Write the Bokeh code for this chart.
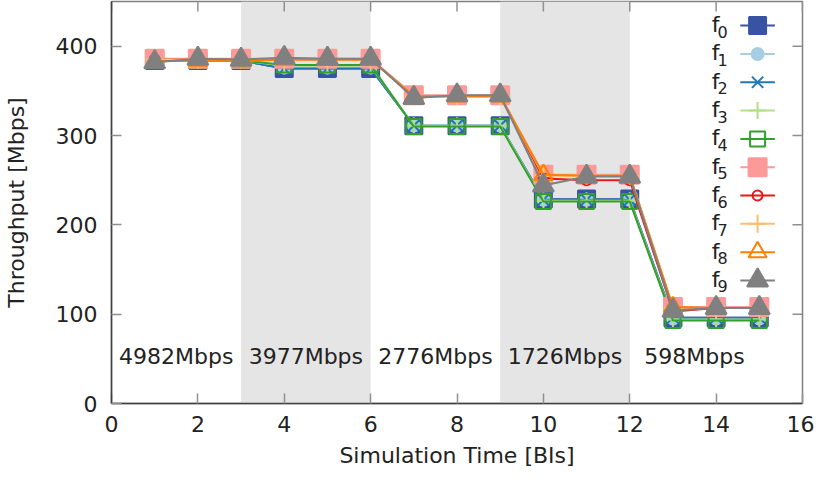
import math
from bokeh.plotting import figure
from bokeh.models import BoxAnnotation, Range1d, FixedTicker, ColumnDataSource
from bokeh.core.properties import value
from bokeh.embed import file_html
from bokeh.resources import INLINE

x = list(range(1, 16))
f0 = [384, 384, 384, 375, 375, 375, 311, 311, 311, 229, 229, 229, 96, 96, 96]
f1 = [384, 384, 384, 376, 376, 376, 311, 311, 311, 228, 228, 228, 95, 95, 95]
f2 = [384, 384, 384, 375, 375, 375, 311, 311, 311, 228, 228, 228, 96, 96, 96]
f3 = [384, 384, 384, 378, 378, 378, 311, 311, 311, 227, 227, 227, 94, 94, 94]
f4 = [384, 384, 384, 379, 379, 379, 310, 310, 310, 226, 226, 226, 93, 93, 93]
f5 = [386, 386, 386, 386, 386, 386, 345, 345, 345, 256, 256, 256, 108, 108, 108]
f6 = [385, 385, 385, 385, 385, 385, 344, 344, 344, 252, 250, 250, 103, 107, 107]
f7 = [385, 385, 385, 385, 385, 385, 344, 344, 344, 255, 255, 255, 107, 107, 107]
f8 = [383, 384, 383, 385, 385, 385, 344, 344, 344, 256, 255, 255, 108, 107, 107]
f9 = [382, 386, 385, 387, 386, 386, 342, 345, 345, 244, 254, 254, 104, 107, 107]

series = [f0, f1, f2, f3, f4, f5, f6, f7, f8, f9]
subs = ["0", "1", "2", "3", "4", "5", "6", "7", "8", "9"]
colors = ["#3953a4", "#a6cee3", "#1f78b4", "#b2df8a", "#33a02c",
          "#fb9a99", "#e31a1c", "#fdbf6f", "#ff7f00", "#808080"]
markers = ["square", "circle", "x", "cross", "square",
           "square", "circle", "cross", "triangle", "triangle"]
filled = [True, True, False, False, False, True, False, False, False, True]
sizes = [17, 12, 16, 17, 15, 18, 10, 18, 18, 21]

x_ticks = [0, 2, 4, 6, 8, 10, 12, 14, 16]
y_ticks = [0, 100, 200, 300, 400]
x_max, y_max = 16, 450

shade_starts = [3, 9]
shade_ends = [6, 12]

cap_x = [1.5, 4.5, 7.5, 10.5, 13.5]
cap_y = [53, 53, 53, 53, 53]
cap_text = ["4982Mbps", "3977Mbps", "2776Mbps", "1726Mbps", "598Mbps"]

# key (legend) layout, in data units
key_cx, key_half = 14.96, 0.40
key_top, key_step = 423.0, 31.7

FONT = "DejaVu Sans"
TXT = "#222222"

p = figure(width=814, height=470, output_backend="svg", toolbar_location=None,
           x_range=Range1d(0, x_max), y_range=Range1d(0, y_max),
           min_border_left=108, min_border_right=12, min_border_top=1, min_border_bottom=64,
           background_fill_color="white", border_fill_color="white")
p.xgrid.visible = False
p.ygrid.visible = False
p.outline_line_color = "#808080"
p.outline_line_width = 1.5

for s, e in zip(shade_starts, shade_ends):
    p.add_layout(BoxAnnotation(left=s, right=e, fill_color="#e5e5e5", fill_alpha=1.0,
                               line_alpha=0, level="underlay"))

# mirrored inward ticks on the right and top borders
p.ray(x=[x_max] * len(y_ticks), y=y_ticks, length=10, length_units="screen",
      angle=math.pi, line_color="#909090", line_width=1.5)
p.ray(x=x_ticks, y=[y_max] * len(x_ticks), length=10, length_units="screen",
      angle=-math.pi / 2, line_color="#909090", line_width=1.5)

for i, (ys, c, m, fl, sz) in enumerate(zip(series, colors, markers, filled, sizes)):
    src = ColumnDataSource(dict(x=x, y=ys))
    p.line("x", "y", source=src, line_color=c, line_width=2)
    p.scatter("x", "y", source=src, marker=m, size=sz, line_color=c, line_width=2,
              fill_color=c if fl else None, fill_alpha=1.0 if fl else 0)

p.text(x=cap_x, y=cap_y, text=cap_text, text_align="center", text_baseline="middle",
       text_font=value(FONT), text_font_size="22px", text_color=TXT)

# key: label on the left, sample line + marker on the right (gnuplot style)
for i, (sb, c, m, fl, sz) in enumerate(zip(subs, colors, markers, filled, sizes)):
    ky = key_top - key_step * i
    p.line([key_cx - key_half, key_cx + key_half], [ky, ky], line_color=c, line_width=2)
    p.scatter([key_cx], [ky], marker=m, size=sz, line_color=c, line_width=2,
              fill_color=c if fl else None, fill_alpha=1.0 if fl else 0)
    p.text(x=[key_cx], y=[ky], text=["f"], text_align="right", text_baseline="middle",
           x_offset=-38, y_offset=-1, text_font=value(FONT), text_font_size="22px",
           text_color=TXT)
    p.text(x=[key_cx], y=[ky], text=[sb], text_align="left", text_baseline="middle",
           x_offset=-40, y_offset=6, text_font=value(FONT), text_font_size="16px",
           text_color=TXT)

for ax in (p.xaxis[0], p.yaxis[0]):
    ax.major_label_text_font = FONT
    ax.major_label_text_font_size = "22px"
    ax.major_label_text_color = TXT
    ax.axis_label_text_font = FONT
    ax.axis_label_text_font_size = "22px"
    ax.axis_label_text_font_style = "normal"
    ax.axis_label_text_color = TXT
    ax.major_tick_in = 10
    ax.major_tick_out = 0
    ax.minor_tick_line_alpha = 0
    ax.axis_line_color = "#404040"
    ax.axis_line_width = 1.5
    ax.major_tick_line_color = "#909090"
    ax.major_tick_line_width = 1.5

p.xaxis.ticker = FixedTicker(ticks=x_ticks)
p.yaxis.ticker = FixedTicker(ticks=y_ticks)
p.xaxis.axis_label = "Simulation Time [BIs]"
p.yaxis.axis_label = "Throughput [Mbps]"
p.xaxis.major_label_standoff = 12
p.yaxis.major_label_standoff = 14
p.xaxis.axis_label_standoff = 8
p.yaxis.axis_label_standoff = 24

open("out.html", "w").write(file_html(p, INLINE))
